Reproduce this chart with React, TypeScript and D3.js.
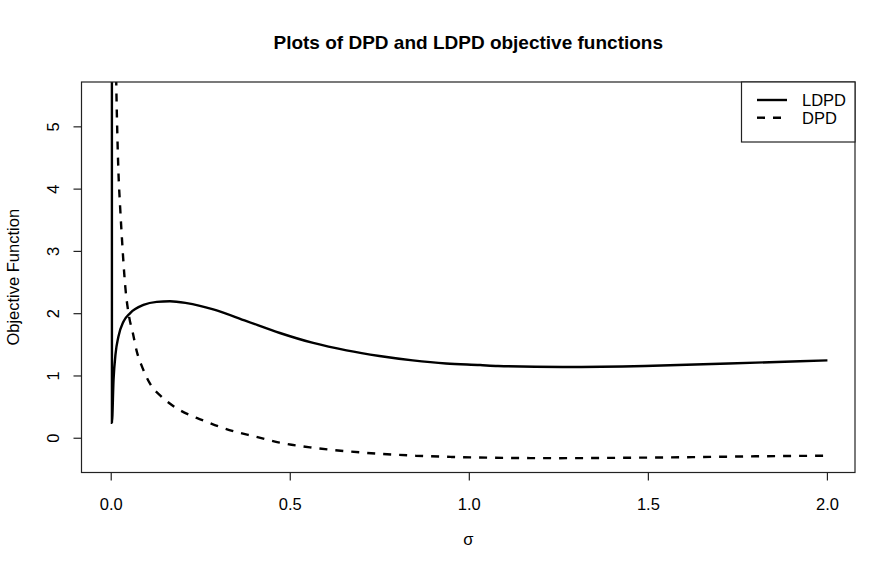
import React from "react";
import * as d3 from "d3";

// sigma / objective value pairs
const ldpdSigma = [0.0005, 0.002, 0.0065, 0.012, 0.02, 0.034, 0.053, 0.09, 0.127, 0.164, 0.211, 0.285, 0.378, 0.471, 0.564, 0.657, 0.749, 0.842, 0.935, 1.03, 1.08, 1.26, 1.49, 1.724, 2.0];
const ldpdValue = [80, 0.25, 0.94, 1.35, 1.63, 1.87, 2.01, 2.14, 2.19, 2.2, 2.17, 2.07, 1.88, 1.69, 1.53, 1.41, 1.32, 1.25, 1.2, 1.175, 1.16, 1.145, 1.16, 1.2, 1.25];

const dpdSigma = [0.002, 0.006, 0.01, 0.014, 0.017, 0.02, 0.025, 0.03, 0.039, 0.05, 0.06, 0.072, 0.086, 0.11, 0.14, 0.175, 0.22, 0.26, 0.3, 0.35, 0.4, 0.47, 0.56, 0.66, 0.75, 0.85, 0.95, 1.1, 1.25, 1.4, 1.6, 1.8, 2.0];
const dpdValue = [60, 14, 7.5, 5.72, 4.9, 4.3, 3.7, 3.2, 2.45, 1.95, 1.7, 1.38, 1.15, 0.86, 0.67, 0.51, 0.37, 0.28, 0.19, 0.1, 0.03, -0.07, -0.15, -0.21, -0.25, -0.28, -0.3, -0.315, -0.32, -0.315, -0.305, -0.29, -0.28];

const xTicks = [0, 0.5, 1.0, 1.5, 2.0];
const yTicks = [0, 1, 2, 3, 4, 5];
const legendLabels = ["LDPD", "DPD"];

const W = 896;
const H = 575;
const plot = { left: 81.5, right: 855, top: 82, bottom: 472.5 };
const font = "'Liberation Sans', Arial, Helvetica, sans-serif";

export default function App() {
  const x = d3.scaleLinear().domain([-0.083, 2.077]).range([plot.left, plot.right]);
  const y = d3.scaleLinear().domain([-0.55, 5.72]).range([plot.bottom, plot.top]);

  const line = d3
    .line<[number, number]>()
    .x((d) => x(d[0]))
    .y((d) => y(d[1]))
    .curve(d3.curveMonotoneX);

  const ldpd = ldpdSigma.map((s, i) => [s, ldpdValue[i]] as [number, number]);
  const dpd = dpdSigma.map((s, i) => [s, dpdValue[i]] as [number, number]);

  const legendX = 741.5;
  const legendBottom = 142;

  return (
    <svg width={W} height={H} style={{ position: "absolute", left: 0, top: 0, background: "#fff" }} fontFamily={font}>
      <defs>
        <clipPath id="plotClip">
          <rect x={plot.left} y={plot.top} width={plot.right - plot.left} height={plot.bottom - plot.top} />
        </clipPath>
      </defs>

      {/* title */}
      <text x={(plot.left + plot.right) / 2} y={49} textAnchor="middle" fontWeight="bold" fontSize={19}>
        Plots of DPD and LDPD objective functions
      </text>

      {/* curves */}
      <g clipPath="url(#plotClip)" fill="none" stroke="#000" strokeWidth={2.4}>
        <path d={line(ldpd) || ""} />
        <path d={line(dpd) || ""} strokeDasharray="8,8" />
      </g>

      {/* box */}
      <rect x={plot.left} y={plot.top} width={plot.right - plot.left} height={plot.bottom - plot.top} fill="none" stroke="#222" strokeWidth={1.2} />

      {/* x axis */}
      {xTicks.map((t) => (
        <g key={"x" + t}>
          <line x1={x(t)} x2={x(t)} y1={plot.bottom} y2={plot.bottom + 8} stroke="#222" strokeWidth={1.2} />
          <text x={x(t)} y={510} textAnchor="middle" fontSize={16.5}>
            {t.toFixed(1)}
          </text>
        </g>
      ))}
      <text x={(plot.left + plot.right) / 2} y={545} textAnchor="middle" fontSize={16.5}>
        σ
      </text>

      {/* y axis */}
      {yTicks.map((t) => (
        <g key={"y" + t}>
          <line x1={plot.left - 8} x2={plot.left} y1={y(t)} y2={y(t)} stroke="#222" strokeWidth={1.2} />
          <text transform={`translate(58.5,${y(t)}) rotate(-90)`} textAnchor="middle" fontSize={16.5}>
            {t}
          </text>
        </g>
      ))}
      <text transform={`translate(18.5,${(plot.top + plot.bottom) / 2}) rotate(-90)`} textAnchor="middle" fontSize={16.5}>
        Objective Function
      </text>

      {/* legend */}
      <rect x={legendX} y={plot.top} width={plot.right - legendX} height={legendBottom - plot.top} fill="#fff" stroke="#222" strokeWidth={1.2} />
      {legendLabels.map((lab, i) => {
        const ly = 100 + i * 17.7;
        return (
          <g key={lab}>
            <line x1={757} x2={787} y1={ly} y2={ly} stroke="#000" strokeWidth={2.4} strokeDasharray={i === 1 ? "8,8" : undefined} />
            <text x={802} y={ly + 5.8} fontSize={16.5}>
              {lab}
            </text>
          </g>
        );
      })}
    </svg>
  );
}
